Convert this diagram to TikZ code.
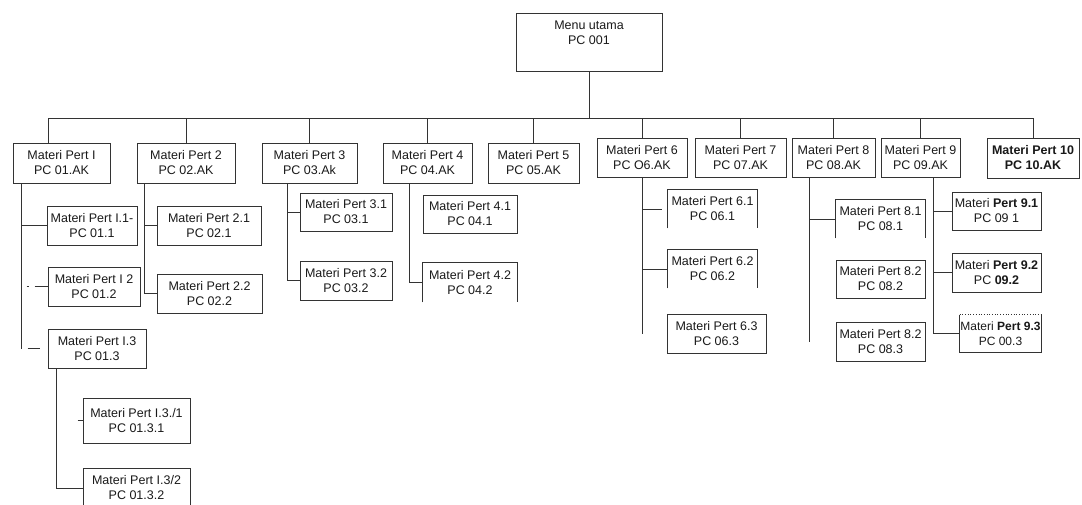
\documentclass[tikz,border=0pt]{standalone}
\usepackage{fontspec}
\setmainfont{Liberation Sans}
\begin{document}
\begin{tikzpicture}[x=1pt,y=-1pt,
  linec/.style={draw=black!80, line width=0.7pt},
  box/.style={linec, inner sep=0pt, align=center, text=black!90,
    font=\fontsize{12.5}{15}\selectfont},
  openbox/.style={box, draw=none},
  sz/.style 2 args={minimum width=#1pt, minimum height=#2pt}]
\useasboundingbox (0,0) rectangle (1082,504);

% root
\node[box, sz={146}{58}] (top) at (589,42) {};
\node[box, draw=none] (toptext) at (589,33) {Menu utama\\PC 001};

% first level
\node[box, sz={97}{40}] (p1)  at (61.5,163)  {Materi Pert I\\PC 01.AK};
\node[box, sz={98}{40}] (p2)  at (186,163)   {Materi Pert 2\\PC 02.AK};
\node[box, sz={95}{40}] (p3)  at (309.5,163) {Materi Pert 3\\PC 03.Ak};
\node[box, sz={89}{40}] (p4)  at (427.5,163) {Materi Pert 4\\PC 04.AK};
\node[box, sz={91}{40}] (p5)  at (533.5,163) {Materi Pert 5\\PC 05.AK};
\node[box, sz={90}{39}] (p6)  at (642,157.5) {Materi Pert 6\\PC O6.AK};
\node[box, sz={91}{39}] (p7)  at (740.5,157.5) {Materi Pert 7\\PC 07.AK};
\node[box, sz={83}{39}] (p8)  at (833.5,157.5) {Materi Pert 8\\PC 08.AK};
\node[box, sz={79}{39}] (p9)  at (920.5,157.5) {Materi Pert 9\\PC 09.AK};
\node[box, sz={92}{40}, font=\fontsize{12.5}{15}\selectfont\bfseries] (p10) at (1033,158) {Materi Pert 10\\PC 10.AK};

% bus
\coordinate (busL) at (48,118);
\coordinate (busR) at (1033,118);
\draw[linec] (top.south) -- (top.south |- busL);
\draw[linec] (busL) -- (busR);
\draw[linec] (busL) -- (busL |- p1.north);
\foreach \n in {p2,p3,p4,p5,p6,p7,p8,p9,p10}
  \draw[linec] (\n.north |- busL) -- (\n.north);

% column 1
\node[box, sz={90}{39}]  (q11) at (92,225.5)  {Materi Pert I.1-\\PC 01.1};
\node[box, sz={92}{39}]  (q12) at (94,286.5)  {Materi Pert I 2\\PC 01.2};
\node[box, sz={98}{39}]  (q13) at (97,348.5)  {Materi Pert I.3\\PC 01.3};
\node[box, sz={107}{45}] (r131) at (136.5,420.5) {Materi Pert I.3./1\\PC 01.3.1};
\node[box, sz={107}{40}] (r132) at (136.5,488) {Materi Pert I.3/2\\PC 01.3.2};
\coordinate (s1) at ([xshift=9pt]p1.south west);
\draw[linec] (s1) -- (s1 |- q13.west);
\draw[linec] (s1 |- q11.west) -- (q11.west);
\draw[linec] ([xshift=-13pt]q12.west) -- (q12.west);
\draw[linec] ([xshift=-21pt]q12.west) -- ([xshift=-19pt]q12.west);
\draw[linec] ([xshift=-20pt]q13.west) -- ([xshift=-8pt]q13.west);
\coordinate (s13) at ([xshift=9pt]q13.south west);
\draw[linec] (s13) |- (r132.west);
\draw[linec] ([xshift=-5pt]r131.west) -- (r131.west);

% column 2
\node[box, sz={104}{39}] (q21) at (209,225.5) {Materi Pert 2.1\\PC 02.1};
\node[box, sz={105}{39}] (q22) at (209.5,293.5) {Materi Pert 2.2\\PC 02.2};
\coordinate (s2) at ([xshift=8pt]p2.south west);
\draw[linec] (s2) |- (q22.west);
\draw[linec] (s2 |- q21.west) -- (q21.west);

% column 3
\node[box, sz={92}{38}] (q31) at (346,212) {Materi Pert 3.1\\PC 03.1};
\node[box, sz={92}{39}] (q32) at (346,280.5) {Materi Pert 3.2\\PC 03.2};
\coordinate (s3) at ([xshift=26pt]p3.south west);
\draw[linec] (s3) |- (q32.west);
\draw[linec] (s3 |- q31.west) -- (q31.west);

% column 4
\node[box, sz={94}{38}] (q41) at (470,214) {Materi Pert 4.1\\PC 04.1};
\node[openbox, sz={94}{39}] (q42) at (470,282.5) {Materi Pert 4.2\\PC 04.2};
\coordinate (s4) at ([xshift=27pt]p4.south west);
\draw[linec] (s4) |- (q42.west);

% column 6
\node[openbox, sz={89}{38}] (q61) at (712.5,209) {Materi Pert 6.1\\PC 06.1};
\node[openbox, sz={89}{38}] (q62) at (712.5,269) {Materi Pert 6.2\\PC 06.2};
\node[box, sz={99}{39}] (q63) at (716.5,333.5) {Materi Pert 6.3\\PC 06.3};
\coordinate (s6) at (p6.south);
\draw[linec] (s6) -- (s6 |- q63.west);
\draw[linec] ([xshift=1pt]s6 |- q61.west) -- ([xshift=-6pt]q61.west);
\draw[linec] (s6 |- q62.west) -- (q62.west);

% column 8
\node[openbox, sz={89}{38}] (q81) at (880.5,219) {Materi Pert 8.1\\PC 08.1};
\node[box, sz={89}{38}] (q82) at (880.5,279) {Materi Pert 8.2\\PC 08.2};
\node[box, sz={89}{39}] (q83) at (880.5,341.5) {Materi Pert 8.2\\PC 08.3};
\coordinate (s8) at ([xshift=18pt]p8.south west);
\draw[linec] (s8) -- (s8 |- q83.west);
\draw[linec] (s8 |- q81.west) -- (q81.west);

% column 9
\node[box, sz={89}{38}] (q91) at (996.5,211) {Materi \textbf{Pert 9.1}\\PC 09 1};
\node[box, sz={89}{39}] (q92) at (996.5,272.5) {Materi \textbf{Pert 9.2}\\PC \textbf{09.2}};
\node[openbox, sz={81}{37}, font=\fontsize{12}{15}\selectfont] (q93) at (1000.5,333.5) {Materi \textbf{Pert 9.3}\\PC 00.3};
\coordinate (s9) at ([xshift=53pt]p9.south west);
\draw[linec] (s9) |- (q93.west);
\draw[linec] (s9 |- q91.west) -- (q91.west);
\draw[linec] (s9 |- q92.west) -- (q92.west);

% boxes drawn without a bottom edge
\foreach \n in {q42,q61,q62,q81}
  \draw[linec] (\n.south west) -- (\n.north west) -- (\n.north east) -- (\n.south east);
% box with a dotted top edge
\draw[linec] (q93.north west) -- (q93.south west) -- (q93.south east) -- (q93.north east);
\draw[linec, dotted] (q93.north west) -- (q93.north east);
\end{tikzpicture}
\end{document}
